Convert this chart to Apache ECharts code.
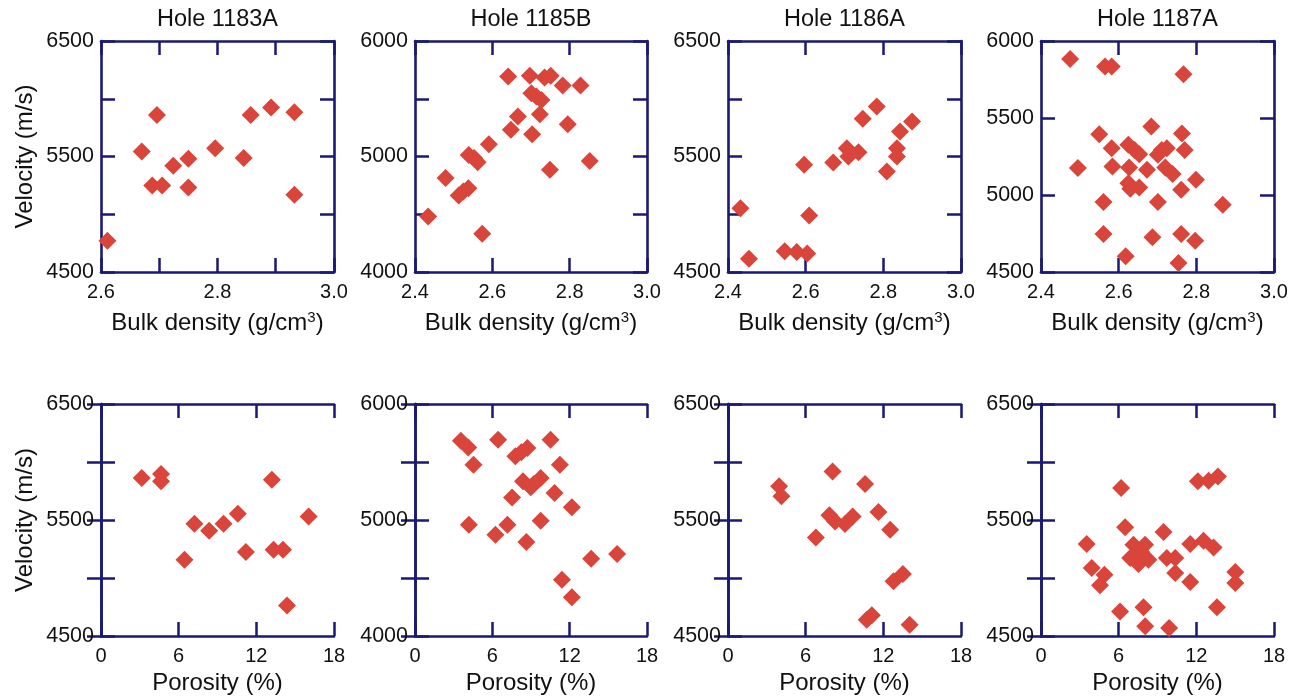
<!DOCTYPE html>
<html>
<head>
<meta charset="utf-8">
<script src="https://cdn.jsdelivr.net/npm/echarts@6/dist/echarts.min.js"></script>
<style>
  html, body { margin: 0; padding: 0; background: #fff; }
  #chart { width: 1309px; height: 700px; }
</style>
</head>
<body>
<div id="chart"></div>
<script>
const holes = ['Hole 1183A', 'Hole 1185B', 'Hole 1186A', 'Hole 1187A']

// bulk density (g/cm3), velocity (m/s)
const dens1183A = [
  [2.696, 5860], [2.670, 5543], [2.688, 5249], [2.705, 5249], [2.724, 5419],
  [2.750, 5480], [2.750, 5232], [2.796, 5572], [2.845, 5486], [2.857, 5860],
  [2.892, 5924], [2.932, 5883], [2.932, 5169], [2.611, 4771]
]
const dens1185B = [
  [2.641, 5692], [2.697, 5700], [2.735, 5683], [2.751, 5700], [2.782, 5614],
  [2.828, 5614], [2.701, 5548], [2.714, 5519], [2.727, 5490], [2.723, 5366],
  [2.666, 5346], [2.795, 5280], [2.648, 5231], [2.703, 5193], [2.591, 5107],
  [2.539, 5014], [2.553, 4986], [2.562, 4951], [2.852, 4962], [2.749, 4885],
  [2.479, 4813], [2.538, 4726], [2.525, 4697], [2.513, 4663], [2.434, 4481],
  [2.574, 4331]
]
const dens1186A = [
  [2.783, 5932], [2.747, 5826], [2.874, 5803], [2.843, 5716], [2.835, 5572],
  [2.835, 5500], [2.809, 5370], [2.706, 5572], [2.710, 5500], [2.736, 5537],
  [2.671, 5448], [2.596, 5428], [2.609, 4990], [2.432, 5053], [2.454, 4615],
  [2.546, 4679], [2.577, 4673], [2.604, 4661]
]
const dens1187A = [
  [2.475, 5883], [2.565, 5834], [2.582, 5834], [2.767, 5784], [2.684, 5445],
  [2.550, 5395], [2.763, 5399], [2.582, 5304], [2.625, 5326], [2.641, 5293],
  [2.653, 5265], [2.711, 5293], [2.724, 5304], [2.701, 5261], [2.770, 5293],
  [2.495, 5175], [2.584, 5185], [2.627, 5179], [2.673, 5164], [2.720, 5179],
  [2.739, 5136], [2.625, 5077], [2.653, 5049], [2.630, 5040], [2.799, 5099],
  [2.761, 5034], [2.561, 4954], [2.701, 4954], [2.868, 4937], [2.561, 4747],
  [2.687, 4725], [2.761, 4747], [2.797, 4703], [2.618, 4602], [2.754, 4559]
]

// porosity (%), velocity (m/s)
const poro1183A = [
  [3.15, 5862], [4.64, 5896], [4.64, 5833], [13.2, 5848], [7.22, 5468],
  [8.36, 5408], [9.47, 5468], [10.57, 5554], [16.04, 5531], [6.45, 5158],
  [11.19, 5224], [13.33, 5244], [14.06, 5244], [14.37, 4764]
]
const poro1185B = [
  [3.56, 5684], [4.13, 5626], [4.54, 5477], [6.45, 5692], [10.52, 5692],
  [7.79, 5549], [8.25, 5583], [8.72, 5621], [11.24, 5477], [8.38, 5333],
  [8.98, 5282], [9.75, 5362], [9.23, 5310], [7.53, 5195], [10.83, 5233],
  [12.17, 5109], [4.18, 4960], [6.24, 4873], [7.17, 4960], [9.75, 4994],
  [8.64, 4810], [13.67, 4666], [15.68, 4707], [11.40, 4485], [12.17, 4333]
]
const poro1186A = [
  [8.08, 5919], [10.59, 5810], [3.95, 5790], [4.13, 5704], [11.62, 5569],
  [7.83, 5540], [8.27, 5488], [9.04, 5465], [9.63, 5531], [12.53, 5417],
  [6.79, 5350], [12.79, 4971], [13.51, 5034], [10.72, 4640], [11.11, 4678],
  [14.03, 4597]
]
const poro1187A = [
  [12.12, 5833], [12.95, 5839], [13.67, 5876], [6.19, 5776], [6.50, 5437],
  [9.47, 5396], [3.53, 5293], [11.53, 5293], [12.56, 5322], [13.33, 5264],
  [7.14, 5287], [8.04, 5287], [6.89, 5172], [7.53, 5120], [8.30, 5158],
  [7.74, 5224], [9.72, 5172], [10.37, 5172], [10.37, 5043], [3.92, 5086],
  [4.90, 5029], [4.56, 4937], [11.53, 4965], [15.01, 5052], [15.01, 4957],
  [6.11, 4712], [7.92, 4747], [13.59, 4747], [8.05, 4583], [9.90, 4569]
]

const densData = [dens1183A, dens1185B, dens1186A, dens1187A]
const poroData = [poro1183A, poro1185B, poro1186A, poro1187A]

// axis ranges [min, max, tick interval] and the ticks that carry a label
const densRange = [[2.6, 3.0, 0.1], [2.4, 3.0, 0.2], [2.4, 3.0, 0.2], [2.4, 3.0, 0.2]]
const densLabels = [[2.6, 2.8, 3.0], [2.4, 2.6, 2.8, 3.0], [2.4, 2.6, 2.8, 3.0], [2.4, 2.6, 2.8, 3.0]]
const poroRange = [0, 18, 6]
const poroLabels = [0, 6, 12, 18]
const velRangeTop = [[4500, 6500], [4000, 6000], [4500, 6500], [4500, 6000]]
const velLabelsTop = [[4500, 5500, 6500], [4000, 5000, 6000], [4500, 5500, 6500], [4500, 5000, 5500, 6000]]
const velRangeBottom = [[4500, 6500], [4000, 6000], [4500, 6500], [4500, 6500]]
const velLabelsBottom = [[4500, 5500, 6500], [4000, 5000, 6000], [4500, 5500, 6500], [4500, 5500, 6500]]

const navy = '#1b1970'
const dotColor = '#d9453b'
const font = 'Liberation Sans, Arial, sans-serif'
const lefts = [101, 415, 728, 1041]
const widths = [233, 232, 233, 233]
const tops = [41, 404]
const heights = [231, 232]
const xNameGap = [38, 35]

const labelled = list => v => list.some(l => Math.abs(l - v) < 1e-6) ? String(v) : ''

const grid = []
const xAxis = []
const yAxis = []
const series = []

function frameAxis(extra) {
  return Object.assign({
    type: 'value',
    axisLine: { show: true, lineStyle: { color: navy, width: 2.6 } },
    axisTick: { show: true, inside: true, length: 14, lineStyle: { color: navy, width: 2.5 } },
    splitLine: { show: false }
  }, extra)
}

function addPanel(row, col, xr, xLabels, xName, yr, yLabels, data) {
  const g = grid.length
  grid.push({ left: lefts[col], top: tops[row], width: widths[col], height: heights[row] })

  // bottom x axis with labels
  xAxis.push(frameAxis({
    gridIndex: g, position: 'bottom', min: xr[0], max: xr[1], interval: xr[2],
    axisLabel: { fontSize: 20, color: '#111', fontFamily: font, margin: 10, formatter: v => {
      const s = labelled(xLabels)(v); return s && (xr[2] < 1 ? Number(v).toFixed(1) : s)
    } },
    name: xName, nameLocation: 'middle', nameGap: xNameGap[row],
    nameTextStyle: {
      fontSize: 24, color: '#111', fontFamily: font,
      rich: { sup: { fontSize: 15, color: '#111', fontFamily: font, padding: [0, 0, 12, 0] } }
    }
  }))
  // top x axis: ticks only, title on the top row
  xAxis.push(frameAxis({
    gridIndex: g, position: 'top', min: xr[0], max: xr[1], interval: xr[2],
    axisLabel: { show: false },
    name: row === 0 ? holes[col] : '', nameLocation: 'middle', nameGap: 9,
    nameTextStyle: { fontSize: 23.5, color: '#111', fontFamily: font }
  }))
  yAxis.push(frameAxis({
    gridIndex: g, position: 'left', min: yr[0], max: yr[1], interval: 500,
    axisLabel: { fontSize: 21.5, color: '#111', fontFamily: font, margin: 7, formatter: labelled(yLabels) },
    name: col === 0 ? 'Velocity (m/s)' : '', nameLocation: 'middle', nameGap: 64,
    nameTextStyle: { fontSize: 24, color: '#111', fontFamily: font }
  }))
  yAxis.push(frameAxis({
    gridIndex: g, position: 'right', min: yr[0], max: yr[1], interval: 500,
    axisLabel: { show: false }
  }))

  series.push({
    type: 'scatter',
    xAxisIndex: 2 * g,
    yAxisIndex: 2 * g,
    data: data,
    symbol: 'diamond',
    symbolSize: 18,
    itemStyle: { color: dotColor, opacity: 1 },
    animation: false
  })
}

for (let c = 0; c < 4; c++) {
  addPanel(0, c, densRange[c], densLabels[c], 'Bulk density (g/cm{sup|3})',
    velRangeTop[c], velLabelsTop[c], densData[c])
}
for (let c = 0; c < 4; c++) {
  addPanel(1, c, poroRange, poroLabels, 'Porosity (%)',
    velRangeBottom[c], velLabelsBottom[c], poroData[c])
}

const chart = echarts.init(document.getElementById('chart'))
chart.setOption({
  backgroundColor: '#fff',
  animation: false,
  grid,
  xAxis,
  yAxis,
  series
})
</script>
</body>
</html>
